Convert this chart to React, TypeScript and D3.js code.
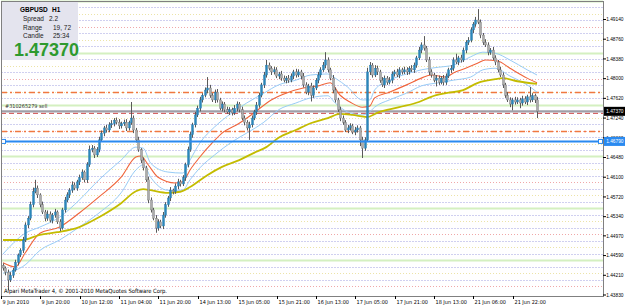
import * as d3 from 'd3';

// price data in pips above 1.4000 (H1 bars, 9 Jun 04:00 .. 22 Jun 09:00)
const BASE = 1.4;
const PIP = 0.0001;
const firstOpen = 440;
const closes = [
  435, 427, 412, 421, 431, 446, 460, 469, 489, 518,
  531, 557, 582, 589, 576, 557, 543, 531, 539, 527,
  537, 543, 524, 512, 547, 566, 576, 585, 595, 589,
  601, 609, 620, 605, 634, 663, 666, 653, 663, 682,
  695, 705, 701, 711, 713, 720, 716, 709, 713, 716,
  705, 715, 724, 701, 682, 663, 643, 628, 605, 566,
  547, 531, 512, 524, 516, 537, 557, 570, 585, 582,
  593, 601, 597, 609, 634, 663, 692, 711, 730, 743,
  759, 768, 778, 782, 768, 759, 774, 759, 743, 751,
  740, 736, 740, 734, 743, 751, 740, 724, 716, 705,
  711, 724, 736, 749, 768, 788, 807, 826, 820, 813,
  817, 805, 809, 801, 797, 801, 797, 805, 813, 807,
  813, 805, 788, 774, 786, 768, 782, 797, 807, 817,
  826, 836, 817, 801, 778, 759, 740, 724, 716, 701,
  705, 709, 697, 701, 705, 682, 666, 682, 813, 826,
  807, 820, 813, 797, 788, 801, 793, 797, 809, 813,
  807, 817, 813, 817, 813, 820, 817, 826, 840, 855,
  865, 859, 836, 813, 807, 797, 801, 793, 801, 793,
  805, 817, 820, 836, 832, 840, 836, 855, 870, 874,
  894, 905, 913, 909, 884, 870, 865, 851, 855, 840,
  832, 817, 807, 788, 768, 759, 751, 759, 755, 759,
  753, 761, 755, 765, 759, 767, 759, 737,
];
const upWicks = [
  4, 3, 5, 6, 4, 5, 3, 4, 6, 5,
  4, 6, 8, 16, 5, 3, 6, 4, 7, 5,
  4, 6, 3, 5, 4, 6, 5, 4, 7, 5,
  4, 6, 5, 3, 5, 8, 6, 4, 5, 6,
  5, 4, 6, 5, 7, 4, 5, 6, 4, 5,
  6, 4, 31, 5, 4, 6, 3, 5, 4, 6,
  5, 4, 6, 5, 4, 6, 5, 4, 6, 3,
  5, 6, 4, 5, 4, 6, 5, 4, 6, 5,
  6, 4, 5, 21, 6, 4, 5, 6, 4, 5,
  4, 6, 5, 4, 6, 5, 4, 6, 5, 4,
  6, 5, 4, 6, 5, 4, 6, 10, 5, 4,
  6, 5, 4, 6, 5, 4, 6, 5, 4, 6,
  5, 4, 6, 5, 4, 6, 5, 4, 6, 5,
  6, 15, 5, 4, 6, 5, 4, 6, 5, 4,
  6, 5, 4, 6, 5, 4, 6, 5, 8, 6,
  4, 6, 5, 4, 6, 5, 4, 6, 5, 4,
  6, 5, 4, 6, 5, 4, 6, 5, 4, 6,
  5, 17, 4, 6, 5, 4, 6, 5, 4, 6,
  5, 4, 6, 5, 12, 4, 6, 5, 4, 6,
  5, 4, 6, 21, 5, 4, 6, 5, 4, 6,
  5, 4, 6, 5, 4, 6, 5, 4, 6, 5,
  4, 6, 5, 4, 19, 5, 4, 6,
];
const downWicks = [
  5, 6, 20, 4, 5, 3, 6, 4, 5, 4,
  6, 4, 5, 3, 6, 5, 4, 6, 5, 4,
  6, 5, 4, 6, 3, 5, 4, 6, 5, 4,
  5, 6, 4, 5, 6, 4, 5, 6, 4, 5,
  4, 6, 5, 4, 6, 5, 4, 6, 5, 4,
  6, 5, 4, 6, 5, 4, 6, 5, 4, 6,
  5, 4, 9, 5, 4, 6, 5, 4, 6, 5,
  4, 6, 5, 4, 6, 5, 4, 6, 5, 4,
  6, 5, 4, 6, 5, 4, 6, 5, 4, 6,
  5, 4, 6, 5, 4, 6, 5, 4, 6, 5,
  23, 5, 4, 6, 5, 4, 6, 5, 4, 6,
  5, 4, 6, 5, 4, 6, 5, 4, 6, 5,
  4, 6, 5, 4, 6, 12, 5, 4, 6, 5,
  4, 6, 5, 4, 6, 5, 4, 6, 5, 4,
  6, 5, 4, 6, 5, 12, 19, 5, 4, 6,
  5, 4, 6, 5, 4, 6, 5, 4, 6, 5,
  4, 6, 5, 4, 6, 5, 4, 6, 5, 4,
  6, 5, 4, 6, 5, 4, 12, 5, 4, 6,
  5, 4, 6, 5, 4, 6, 5, 4, 6, 5,
  4, 6, 5, 4, 6, 5, 4, 6, 5, 4,
  6, 5, 4, 6, 5, 4, 6, 12, 5, 4,
  10, 5, 4, 6, 5, 4, 6, 13,
];

// indicator lines, [bar, pips]
const yellowMA = [
  [0, 489], [8, 489], [15, 499], [22, 504], [31, 514], [39, 533], [48, 560], [54, 583],
  [57, 587], [60, 585], [67, 580], [72, 582], [76, 591], [83, 614], [89, 630], [96, 643],
  [102, 657], [107, 668], [112, 686], [119, 701], [125, 714], [132, 724], [137, 732],
  [142, 730], [148, 726], [152, 734], [161, 745], [169, 755], [174, 765], [180, 772],
  [187, 778], [193, 792], [200, 799], [203, 801], [209, 795], [217, 790],
];
const redMA = [
  [0, 445], [5, 437], [9, 464], [15, 502], [23, 514], [31, 541], [39, 572], [48, 610],
  [54, 649], [56, 651], [59, 634], [63, 610], [70, 599], [73, 601], [76, 624], [80, 649],
  [85, 676], [89, 695], [96, 714], [102, 734], [109, 759], [115, 772], [122, 782],
  [128, 786], [133, 792], [137, 768], [141, 755], [146, 745], [149, 747], [151, 763],
  [157, 774], [164, 788], [170, 801], [174, 807], [180, 803], [183, 811], [188, 820],
  [193, 830], [196, 836], [201, 834], [206, 820], [213, 801], [217, 792],
];
const upperBand = [
  [0, 462], [9, 502], [15, 514], [23, 533], [31, 566], [39, 605], [48, 643], [54, 668],
  [57, 666], [60, 637], [67, 620], [73, 618], [76, 643], [80, 676], [86, 707], [93, 734],
  [99, 753], [106, 772], [112, 788], [119, 797], [125, 807], [132, 809], [135, 801],
  [140, 784], [146, 759], [149, 759], [151, 778], [157, 797], [164, 809], [170, 817],
  [177, 822], [183, 826], [190, 842], [195, 851], [200, 849], [206, 836], [213, 817],
  [217, 807],
];
const lowerBand = [
  [0, 425], [9, 441], [15, 469], [23, 489], [31, 514], [39, 541], [48, 580], [54, 624],
  [57, 634], [60, 610], [67, 585], [73, 585], [76, 605], [80, 628], [86, 653], [93, 678],
  [99, 695], [106, 716], [112, 740], [119, 753], [125, 763], [132, 767], [135, 753],
  [140, 736], [146, 730], [149, 736], [151, 745], [157, 759], [164, 772], [170, 786],
  [177, 792], [183, 797], [190, 803], [195, 817], [200, 820], [206, 805], [213, 788],
  [217, 774],
];

const priceTicks = [
  1.4914, 1.4876, 1.4838, 1.48, 1.4762, 1.4724, 1.4686, 1.4648,
  1.461, 1.4572, 1.4534, 1.4497, 1.4459, 1.4421, 1.4383,
];
const timeLabels = [
  '9 Jun 2010', '9 Jun 20:00', '10 Jun 12:00', '11 Jun 04:00', '11 Jun 20:00',
  '14 Jun 13:00', '15 Jun 05:00', '15 Jun 21:00', '16 Jun 13:00', '17 Jun 05:00',
  '17 Jun 21:00', '18 Jun 13:00', '21 Jun 06:00', '21 Jun 22:00',
];
const timeLabelBars = [0, 16, 32, 48, 64, 80, 96, 112, 128, 144, 160, 176, 192, 208];

const symbol = 'GBPUSD';
const period = 'H1';
const infoRows = [['Spread', '2.2'], ['Range', '19, 72'], ['Candle', '25:34']];
const bidPrice = 1.4737;
const orderPrice = 1.4734;
const orderLabel = '#310265279 sell';
const bluePrice = 1.4679;
const orangeLevels = [1.4775, 1.47];
const copyright = 'Alpari MetaTrader 4, © 2001-2010 MetaQuotes Software Corp.';

const W = 625;
const H = 307;
const plot = { left: 1, right: 603, top: 1, bottom: 296 };
const font = '"Liberation Sans", Arial, sans-serif';
const narrow = '"Liberation Sans Narrow", "DejaVu Sans Condensed", sans-serif';

export default function App() {
  const x = d3.scaleLinear().domain([0, 217]).range([3, 537]);
  const y = d3.scaleLinear().domain([1.4383, 1.4914]).range([295, 19.5]);
  const py = (p: number) => y(BASE + p * PIP);

  const line = d3
    .line<number[]>()
    .x((d) => x(d[0]))
    .y((d) => py(d[1]))
    .curve(d3.curveMonotoneX);

  // round-number grid every 12.5 pips
  const levels = d3.range(0, 45).map((k) => ({ k, p: 1.44 + k * 0.00125 }));

  const candles = closes.map((c, i) => {
    const o = i === 0 ? firstOpen : closes[i - 1];
    return { i, o, c, h: Math.max(o, c) + upWicks[i], l: Math.min(o, c) - downWicks[i] };
  });

  const labelRight = W - 1.5;

  return (
    <svg
      width={W}
      height={H}
      style={{ position: 'absolute', left: 0, top: 0, background: '#fff', fontFamily: font }}
    >
      <rect x={0} y={0} width={W} height={H} fill="#fff" />

      {levels.map(({ k, p }) => {
        const m = k % 8;
        const yy = Math.round(y(p)) + 0.5;
        if (m === 4)
          return <line key={k} x1={plot.left} x2={plot.right} y1={yy} y2={yy} stroke="#d4f0c0" strokeWidth={2} />;
        if (m === 0)
          return <line key={k} x1={plot.left} x2={plot.right} y1={yy} y2={yy} stroke="#f0a8a8" strokeDasharray="1,2" />;
        return (
          <line
            key={k}
            x1={plot.left}
            x2={plot.right}
            y1={yy}
            y2={yy}
            stroke={m === 2 || m === 6 ? '#ece4a8' : '#d0d0f0'}
            strokeDasharray={m === 2 || m === 6 ? '1,2' : '2,1'}
          />
        );
      })}

      {orangeLevels.map((p) => (
        <line
          key={p}
          x1={plot.left}
          x2={plot.right}
          y1={Math.round(y(p)) + 0.5}
          y2={Math.round(y(p)) + 0.5}
          stroke="#f07840"
          strokeWidth={1.3}
          strokeDasharray="6,3,2,3"
        />
      ))}

      {/* bid line and order line */}
      <line x1={plot.left} x2={plot.right} y1={y(bidPrice)} y2={y(bidPrice)} stroke="#a0a0a8" strokeWidth={2.2} />
      <line
        x1={plot.left}
        x2={plot.right}
        y1={y(orderPrice) + 0.5}
        y2={y(orderPrice) + 0.5}
        stroke="#d05050"
        strokeDasharray="5,3"
      />
      <text x={5} y={y(bidPrice) - 3} fontSize={5.5} fill="#333" fontFamily={narrow}>
        {orderLabel}
      </text>

      {/* moving averages */}
      <path d={line(upperBand) ?? ''} fill="none" stroke="#98ccf6" strokeWidth={1} />
      <path d={line(lowerBand) ?? ''} fill="none" stroke="#98ccf6" strokeWidth={1} />
      <path d={line(redMA) ?? ''} fill="none" stroke="#f0643a" strokeWidth={1.1} />
      <path d={line(yellowMA) ?? ''} fill="none" stroke="#c4bc00" strokeWidth={1.8} />

      {/* candles */}
      {candles.map((d) => {
        const cx = Math.round(x(d.i)) + 0.5;
        const bull = d.c >= d.o;
        const top = py(Math.max(d.o, d.c));
        const bot = py(Math.min(d.o, d.c));
        return (
          <g key={d.i}>
            <line x1={cx} x2={cx} y1={py(d.h)} y2={py(d.l)} stroke="#5a5a5a" strokeWidth={1} />
            <rect
              x={cx - 1}
              y={top}
              width={2}
              height={Math.max(1, bot - top)}
              fill={bull ? '#2a88bc' : '#acacac'}
              stroke={bull ? '#2a78a8' : '#777'}
              strokeWidth={0.4}
            />
          </g>
        );
      })}

      {/* blue horizontal line */}
      <line x1={plot.left} x2={plot.right} y1={y(bluePrice)} y2={y(bluePrice)} stroke="#2a8af0" strokeWidth={2} />
      <rect x={plot.left + 0.5} y={y(bluePrice) - 2} width={4} height={4} fill="#fff" stroke="#2a8af0" />
      <rect x={plot.right - 4.5} y={y(bluePrice) - 2} width={4} height={4} fill="#fff" stroke="#2a8af0" />

      {/* frame */}
      <rect
        x={plot.left + 0.5}
        y={plot.top + 0.5}
        width={plot.right - plot.left}
        height={plot.bottom - plot.top}
        fill="none"
        stroke="#808080"
      />

      {/* price axis */}
      <g fontSize={4.8} textAnchor="end">
        {priceTicks.map((p) => (
          <g key={p}>
            <line x1={plot.right} x2={plot.right + 3} y1={y(p)} y2={y(p)} stroke="#000" />
            <text x={labelRight} y={y(p) + 1.8} fill="#000">
              {p.toFixed(5)}
            </text>
          </g>
        ))}
        <rect x={plot.right + 1} y={y(bidPrice) - 4.5} width={W - plot.right - 1} height={9} fill="#000" />
        <text x={labelRight} y={y(bidPrice) + 1.8} fill="#fff">
          {bidPrice.toFixed(5)}
        </text>
        <rect x={plot.right + 1} y={y(bluePrice) - 4.5} width={W - plot.right - 1} height={9} fill="#2a8af0" />
        <text x={labelRight} y={y(bluePrice) + 1.8} fill="#fff">
          {bluePrice.toFixed(5)}
        </text>
      </g>

      {/* time axis */}
      <g fontFamily={narrow} fontSize={5.5}>
        {timeLabels.map((t, k) => {
          const lx = Math.round(x(timeLabelBars[k]) - 2);
          return (
            <g key={t}>
              <line x1={lx + 0.5} x2={lx + 0.5} y1={plot.bottom} y2={plot.bottom + 3} stroke="#000" />
              <text x={lx + 1.5} y={304} fill="#000">
                {t}
              </text>
            </g>
          );
        })}
      </g>

      <text x={4} y={293} fontSize={5.8} fill="#000" fontFamily={narrow}>
        {copyright}
      </text>

      {/* info panel */}
      <rect x={2} y={2} width={76} height={58} fill="#e4e4ee" />
      <text x={20} y={12} fontSize={6.5} fontWeight="bold" fill="#000">
        {symbol}
      </text>
      <text x={52} y={12} fontSize={6.5} fontWeight="bold" fill="#000">
        {period}
      </text>
      {infoRows.map(([k, v], j) => (
        <g key={k}>
          <text x={23} y={21 + j * 8.7} fontSize={6.5} fill="#222">
            {k}
          </text>
          <text x={j === 0 ? 49 : 53} y={21 + j * 8.7} fontSize={6.5} fill="#222">
            {v}
          </text>
        </g>
      ))}
      <text x={14} y={56} fontSize={18} fontWeight="bold" fill="#2e9a2e">
        {bidPrice.toFixed(5)}
      </text>
    </svg>
  );
}
